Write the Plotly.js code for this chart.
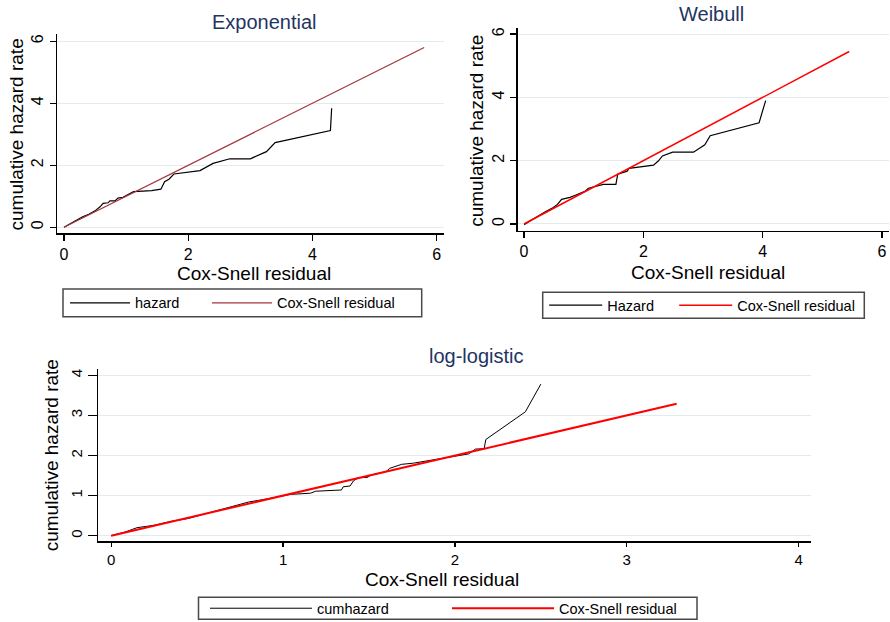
<!DOCTYPE html>
<html>
<head>
<meta charset="utf-8">
<script src="https://cdn.plot.ly/plotly-3.0.1.min.js"></script>
<style>
  html, body { margin: 0; padding: 0; background: #ffffff; }
  #chart { width: 890px; height: 622px; }
</style>
</head>
<body>
<div id="chart"></div>
<script>
// ---------- data ----------
// Exponential panel
var expX = [0, 0.10, 0.20, 0.30, 0.40, 0.50, 0.58, 0.63, 0.71, 0.74, 0.82, 0.87, 0.95, 1.04, 1.12, 1.41, 1.56, 1.62, 1.69, 1.77, 2.19, 2.40, 2.67, 3.00, 3.26, 3.40, 4.29, 4.31];
var expY = [0, 0.12, 0.24, 0.34, 0.42, 0.53, 0.66, 0.77, 0.79, 0.85, 0.85, 0.94, 0.97, 1.07, 1.15, 1.18, 1.23, 1.47, 1.55, 1.72, 1.83, 2.06, 2.21, 2.21, 2.44, 2.73, 3.12, 3.84];
var expRefX = [0, 5.80];
var expRefY = [0, 5.80];

// Weibull panel
var wbX = [0, 0.10, 0.20, 0.35, 0.49, 0.56, 0.63, 0.77, 0.85, 0.94, 1.02, 1.08, 1.17, 1.33, 1.54, 1.57, 1.73, 1.76, 2.17, 2.25, 2.32, 2.49, 2.84, 3.03, 3.12, 3.94, 4.05];
var wbY = [-0.02, 0.10, 0.22, 0.38, 0.52, 0.62, 0.78, 0.84, 0.90, 0.97, 1.03, 1.13, 1.18, 1.25, 1.25, 1.57, 1.67, 1.76, 1.86, 1.99, 2.15, 2.27, 2.27, 2.50, 2.79, 3.20, 3.90];
var wbRefX = [0, 5.45];
var wbRefY = [0, 5.45];

// log-logistic panel
var llX = [0, 0.08, 0.15, 0.25, 0.35, 0.45, 0.55, 0.68, 0.80, 0.91, 0.98, 1.04, 1.16, 1.19, 1.34, 1.35, 1.39, 1.41, 1.44, 1.49, 1.51, 1.60, 1.62, 1.69, 1.76, 1.91, 2.06, 2.08, 2.12, 2.17, 2.18, 2.41, 2.50];
var llY = [0, 0.09, 0.20, 0.26, 0.36, 0.43, 0.55, 0.70, 0.84, 0.92, 0.97, 1.03, 1.06, 1.11, 1.14, 1.22, 1.24, 1.37, 1.45, 1.45, 1.51, 1.60, 1.68, 1.78, 1.81, 1.91, 2.01, 2.04, 2.16, 2.17, 2.40, 3.09, 3.78];
var llRefX = [0, 3.29];
var llRefY = [0, 3.29];

// tick values
var topTicks = [0, 2, 4, 6];
var bottomTicks = [0, 1, 2, 3, 4];

// texts
var panelTitles = ["Exponential", "Weibull", "log-logistic"];
var xTitle = "Cox-Snell residual";
var yTitle = "cumulative hazard rate";
var seriesNames = [["hazard", "Cox-Snell residual"], ["Hazard", "Cox-Snell residual"], ["cumhazard", "Cox-Snell residual"]];

// ---------- styling ----------
var FONT = "Liberation Sans, Arial, Helvetica, sans-serif";
var W = 890, H = 622;
function px(x) { return x / W; }
function py(y) { return 1 - y / H; }

function axisX(domain, range, ticks, anchor, tlen, fsize) {
  return {
    domain: domain, range: range, tickmode: "array", tickvals: ticks, anchor: anchor,
    showgrid: false, zeroline: false, showline: true, linecolor: "#000", linewidth: 1.5,
    ticks: "outside", ticklen: tlen, tickwidth: 1.2, tickcolor: "#000",
    tickfont: { family: FONT, size: fsize, color: "#000" }, fixedrange: true
  };
}
function axisY(domain, range, ticks, anchor, tlen, fsize) {
  return {
    domain: domain, range: range, tickmode: "array", tickvals: ticks, anchor: anchor,
    showgrid: true, gridcolor: "#e3ecec", gridwidth: 1,
    zeroline: false, showline: true, linecolor: "#000", linewidth: 1.5,
    ticks: "outside", ticklen: tlen, tickwidth: 1.2, tickcolor: "#000", tickangle: -90,
    tickfont: { family: FONT, size: fsize, color: "#000" }, fixedrange: true
  };
}

var traces = [
  { x: expX, y: expY, xaxis: "x", yaxis: "y", mode: "lines", name: seriesNames[0][0],
    line: { color: "#000", width: 1.2 }, legend: "legend", legendwidth: 67 },
  { x: expRefX, y: expRefY, xaxis: "x", yaxis: "y", mode: "lines", name: seriesNames[0][1],
    line: { color: "#a8323e", width: 1.2 }, legend: "legend", legendwidth: 130 },

  { x: wbX, y: wbY, xaxis: "x2", yaxis: "y2", mode: "lines", name: seriesNames[1][0],
    line: { color: "#000", width: 1.2 }, legend: "legend2", legendwidth: 62 },
  { x: wbRefX, y: wbRefY, xaxis: "x2", yaxis: "y2", mode: "lines", name: seriesNames[1][1],
    line: { color: "#ff0000", width: 1.5 }, legend: "legend2", legendwidth: 120 },

  { x: llX, y: llY, xaxis: "x3", yaxis: "y3", mode: "lines", name: seriesNames[2][0],
    line: { color: "#000", width: 1.0 }, legend: "legend3", legendwidth: 125 },
  { x: llRefX, y: llRefY, xaxis: "x3", yaxis: "y3", mode: "lines", name: seriesNames[2][1],
    line: { color: "#ff0000", width: 2 }, legend: "legend3", legendwidth: 125 }
];

function legendAt(x, yc, itemw) {
  return {
    x: px(x), y: py(yc), xanchor: "left", yanchor: "middle", orientation: "h",
    borderwidth: 0, bgcolor: "rgba(0,0,0,0)",
    font: { family: FONT, size: 14.5, color: "#000" },
    itemwidth: itemw, itemclick: false, itemdoubleclick: false
  };
}

function box(x0, y0, x1, y1) {
  return {
    type: "rect", xref: "paper", yref: "paper",
    x0: px(x0), x1: px(x1), y0: py(y1), y1: py(y0),
    line: { color: "#4a4a4a", width: 1.5 }, fillcolor: "rgba(0,0,0,0)", layer: "above"
  };
}

function ann(text, x, y, size, color, angle) {
  return {
    text: text, xref: "paper", yref: "paper", x: px(x), y: py(y),
    xanchor: "center", yanchor: "middle", showarrow: false,
    textangle: angle || 0,
    font: { family: FONT, size: size, color: color }
  };
}

var layout = {
  width: W, height: H,
  margin: { l: 0, r: 0, t: 0, b: 0, pad: 0, autoexpand: false },
  paper_bgcolor: "#fff", plot_bgcolor: "#fff",
  showlegend: true,
  xaxis: axisX([px(57.3), px(444)], [-0.108, 6.119], topTicks, "y", 6, 16),
  yaxis: axisY([py(233.3), py(34.3)], [-0.194, 6.226], topTicks, "x", 6, 16),
  xaxis2: axisX([px(517.7), px(889)], [-0.106, 6.117], topTicks, "y2", 6, 16),
  yaxis2: axisY([py(230.7), py(28.3)], [-0.212, 6.183], topTicks, "x2", 6, 16),
  xaxis3: axisX([px(98.1), px(811)], [-0.0762, 4.072], bottomTicks, "y3", 4, 15),
  yaxis3: axisY([py(541), py(369.3)], [-0.132, 4.150], bottomTicks, "x3", 9, 15),
  legend: legendAt(65, 302.9, 60),
  legend2: legendAt(544.2, 305.3, 53),
  legend3: legendAt(205, 608.3, 102),
  shapes: [
    box(63, 289, 421.7, 316.7),
    box(542.7, 292.3, 864.3, 318.3),
    box(198.5, 597.3, 697, 619.3)
  ],
  annotations: [
    ann(panelTitles[0], 264, 22, 20, "#1f3463"),
    ann(panelTitles[1], 711.7, 14, 20, "#1f3463"),
    ann(panelTitles[2], 476, 355.5, 20, "#1f3463"),
    ann(xTitle, 254, 273.5, 19, "#000"),
    ann(xTitle, 708.3, 273, 19, "#000"),
    ann(xTitle, 442, 579, 19, "#000"),
    ann(yTitle, 16.5, 135, 19, "#000", -90),
    ann(yTitle, 477, 130.8, 19, "#000", -90),
    ann(yTitle, 51.3, 455, 19, "#000", -90)
  ]
};

Plotly.newPlot("chart", traces, layout, { staticPlot: true, displayModeBar: false });
</script>
</body>
</html>
